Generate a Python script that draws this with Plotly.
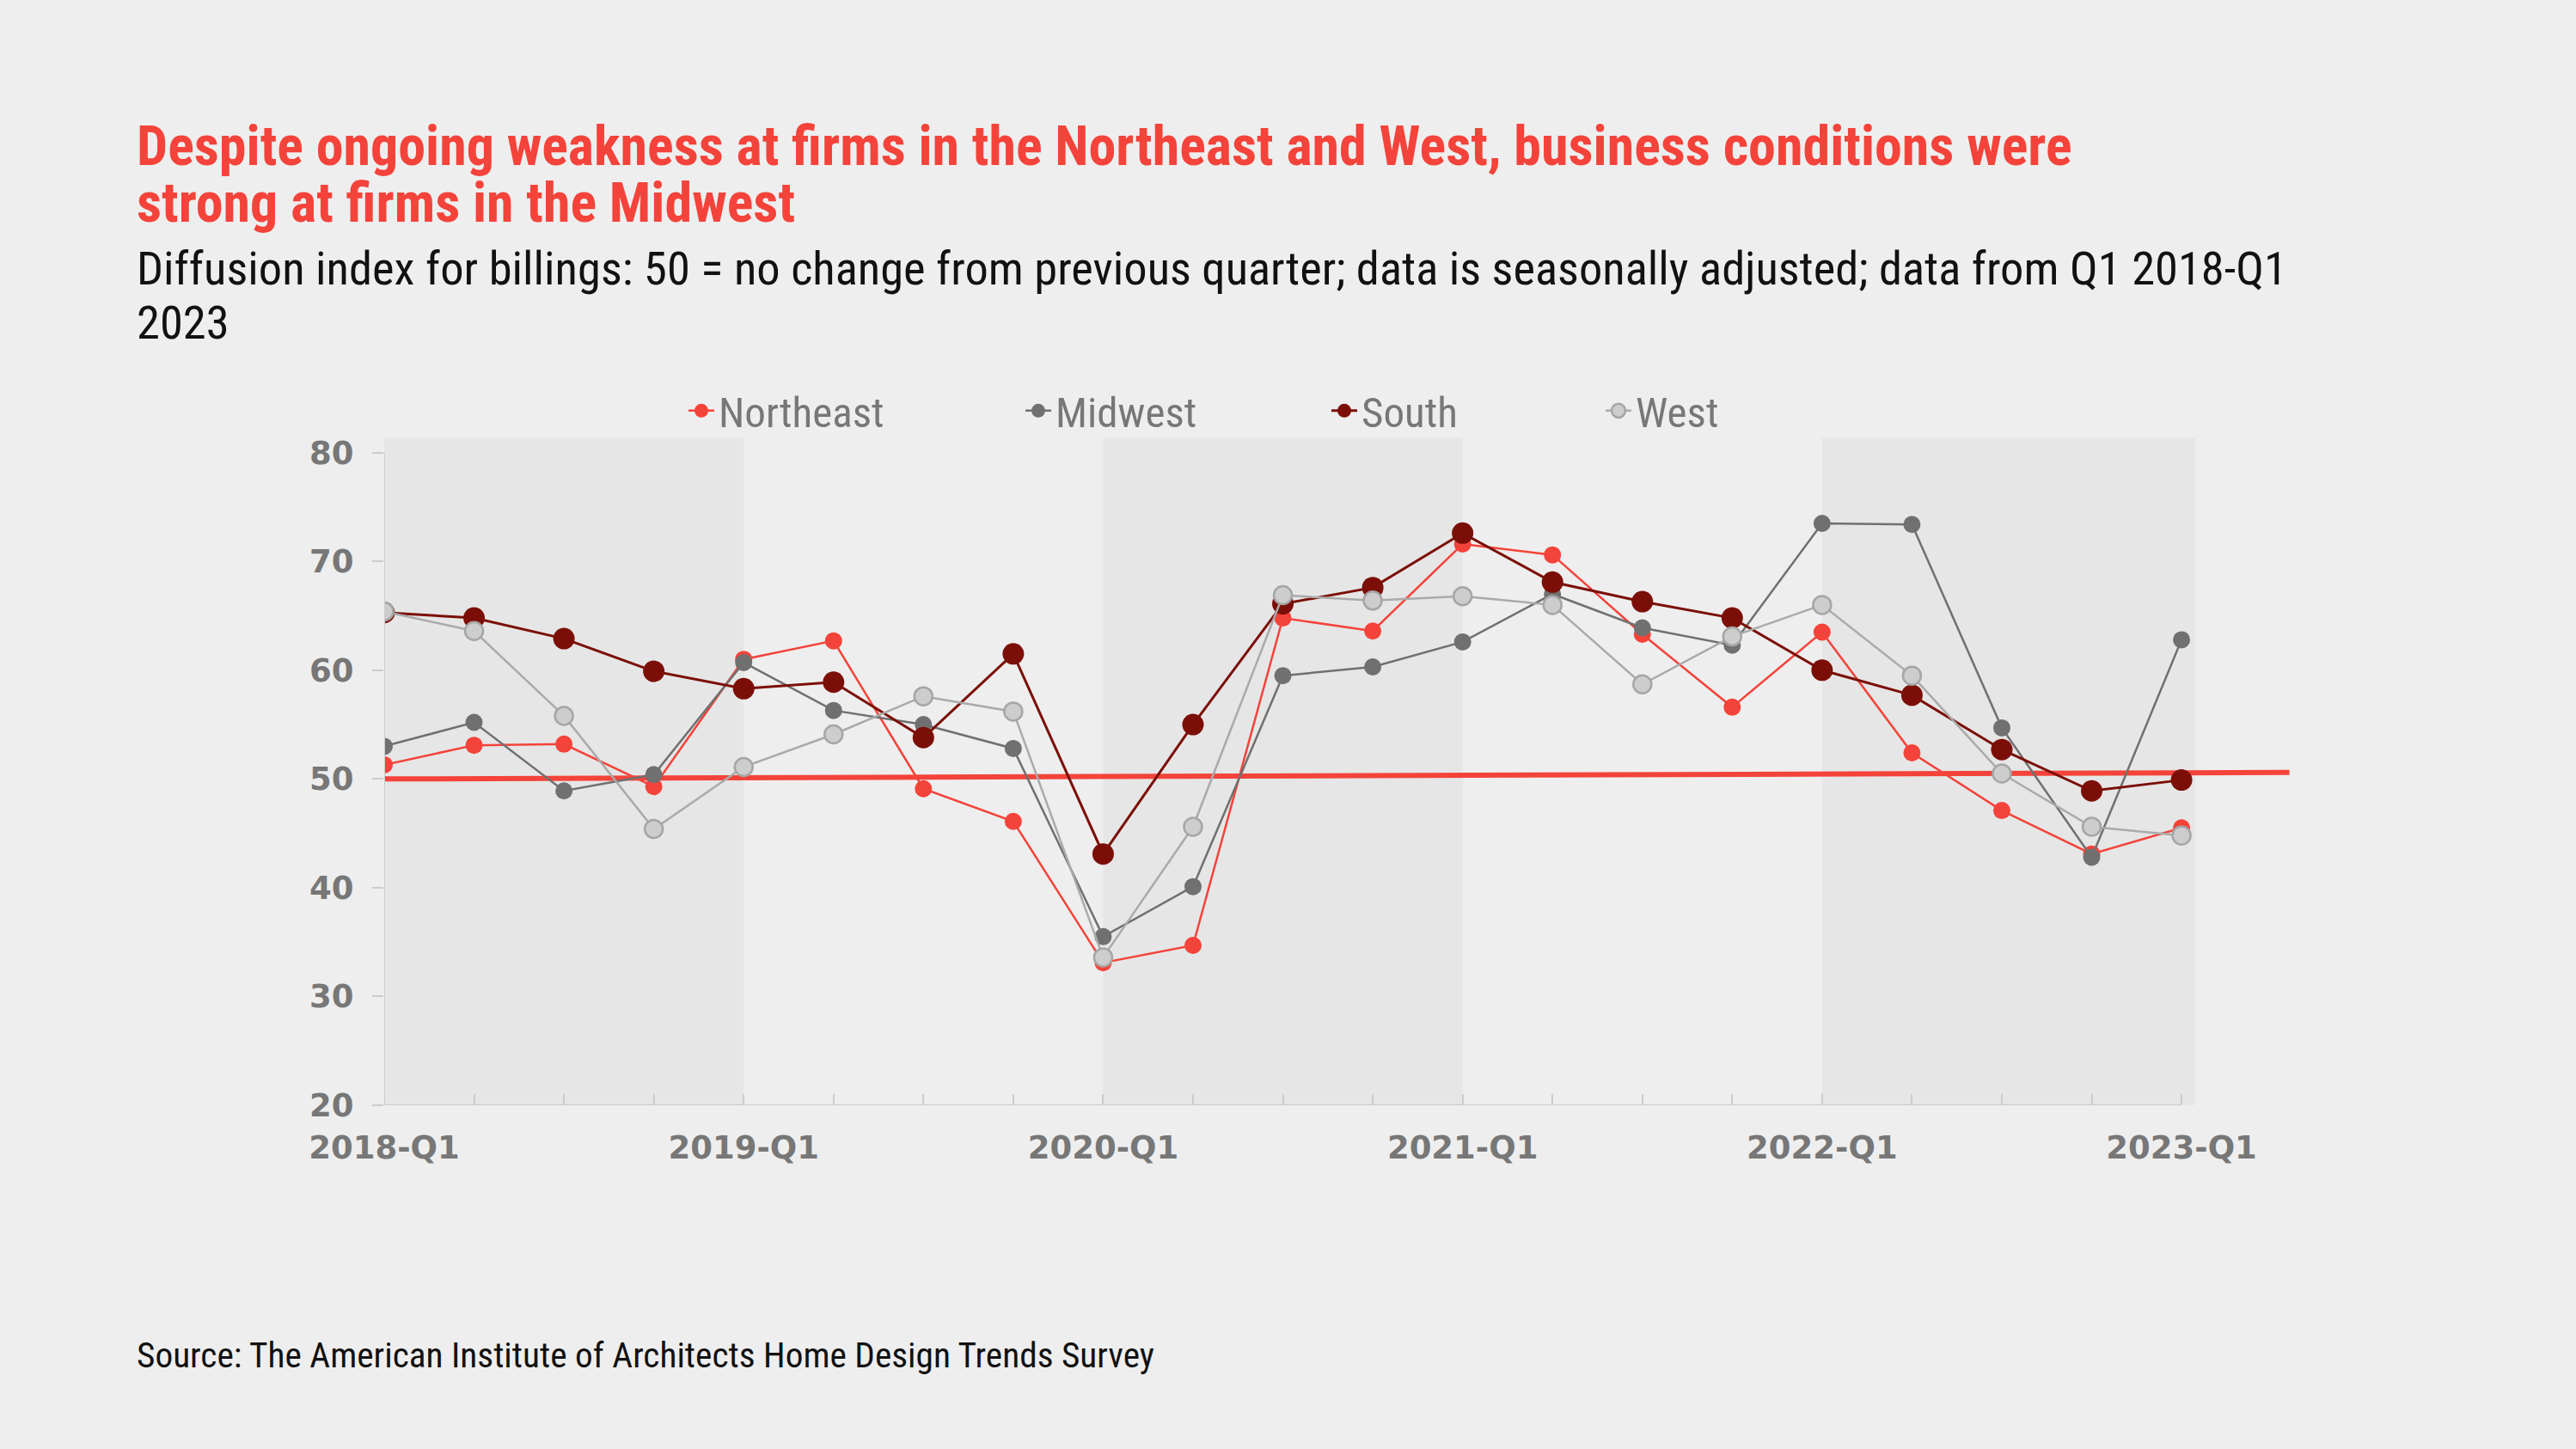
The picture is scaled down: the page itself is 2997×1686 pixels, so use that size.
import plotly.graph_objects as go

# ---------------- data ----------------
quarters = ["2018-Q1", "2018-Q2", "2018-Q3", "2018-Q4",
            "2019-Q1", "2019-Q2", "2019-Q3", "2019-Q4",
            "2020-Q1", "2020-Q2", "2020-Q3", "2020-Q4",
            "2021-Q1", "2021-Q2", "2021-Q3", "2021-Q4",
            "2022-Q1", "2022-Q2", "2022-Q3", "2022-Q4",
            "2023-Q1"]
tick_labels = ["2018-Q1", "", "", "", "2019-Q1", "", "", "", "2020-Q1", "", "", "",
               "2021-Q1", "", "", "", "2022-Q1", "", "", "", "2023-Q1"]

northeast = [51.3, 53.1, 53.2, 49.3, 61.0, 62.7, 49.1, 46.1,
             33.1, 34.7, 64.8, 63.6, 71.6, 70.6, 63.3, 56.6,
             63.5, 52.4, 47.1, 43.1, 45.5]
midwest = [53.0, 55.2, 48.9, 50.4, 60.7, 56.3, 55.0, 52.8,
           35.5, 40.1, 59.5, 60.3, 62.6, 67.0, 63.9, 62.3,
           73.5, 73.4, 54.7, 42.8, 62.8]
south = [65.3, 64.8, 62.9, 59.9, 58.3, 58.9, 53.8, 61.5,
         43.1, 55.0, 66.1, 67.6, 72.6, 68.1, 66.3, 64.8,
         60.0, 57.7, 52.7, 48.9, 49.9]
west = [65.4, 63.6, 55.8, 45.4, 51.1, 54.1, 57.6, 56.2,
        33.6, 45.6, 66.9, 66.4, 66.8, 66.0, 58.7, 63.1,
        66.0, 59.5, 50.5, 45.6, 44.8]

ref_x = [0, 21.2]
ref_y = [50.0, 50.6]

band_starts = [0, 8, 16]
band_ends = [4, 12, 20.15]

y_ticks = [20, 30, 40, 50, 60, 70, 80]

title_lines = ["Despite ongoing weakness at firms in the Northeast and West, business conditions were",
               "strong at firms in the Midwest"]
subtitle_lines = ["Diffusion index for billings: 50 = no change from previous quarter; data is seasonally adjusted; data from Q1 2018-Q1",
                  "2023"]
source_text = "Source: The American Institute of Architects Home Design Trends Survey"

# ---------------- layout geometry ----------------
W_PX, H_PX = 2997, 1686
L, R, T, B = 447, 2674, 509, 1286
PW, PH = R - L, B - T


def px_x(p):
    return (p - L) / PW


def px_y(p):
    return (B - p) / PH


NARROW = "Liberation Sans Narrow, Arial Narrow, Roboto Condensed, sans-serif"
BOLDWIDE = "DejaVu Sans, Verdana, sans-serif"
GREY = "#777777"

x_idx = list(range(len(quarters)))

fig = go.Figure()

# reference line at 50
fig.add_trace(go.Scatter(x=ref_x, y=ref_y, mode="lines",
                         line=dict(color="#F4433A", width=6),
                         showlegend=False, hoverinfo="skip"))

series = [
    ("Northeast", northeast, dict(color="#F4433A", width=2.5),
     dict(color="#F4433A", size=20), "legend"),
    ("Midwest", midwest, dict(color="#707070", width=2.5),
     dict(color="#707070", size=20), "legend2"),
    ("South", south, dict(color="#7B0F08", width=3),
     dict(color="#7B0F08", size=25), "legend3"),
    ("West", west, dict(color="#AAAAAA", width=2.5),
     dict(color="#CDCDCD", size=21, line=dict(color="#A6A6A6", width=2.5)), "legend4"),
]
for name, vals, ln, mk, lg in series:
    fig.add_trace(go.Scatter(x=x_idx, y=vals, name=name, mode="lines+markers",
                             line=ln, marker=mk, legend=lg))

shapes = []
for s, e in zip(band_starts, band_ends):
    shapes.append(dict(type="rect", xref="x", yref="paper", x0=s, x1=e, y0=0, y1=1,
                       fillcolor="#E6E6E6", line=dict(width=0), layer="below"))
# axis lines
shapes.append(dict(type="line", xref="x", yref="y", x0=0, x1=0, y0=20, y1=80,
                   line=dict(color="#CCCCCC", width=2)))
shapes.append(dict(type="line", xref="x", yref="y", x0=0, x1=20, y0=20, y1=20,
                   line=dict(color="#CCCCCC", width=2)))

annotations = []
for line, cy in zip(title_lines, [170, 236]):
    annotations.append(dict(text=line, xref="paper", yref="paper", x=px_x(157), y=px_y(cy),
                            xanchor="left", yanchor="middle", showarrow=False,
                            font=dict(family=NARROW, size=64, color="#F4433A", weight="bold")))
for line, cy in zip(subtitle_lines, [312, 375]):
    annotations.append(dict(text=line, xref="paper", yref="paper", x=px_x(157), y=px_y(cy),
                            xanchor="left", yanchor="middle", showarrow=False,
                            font=dict(family=NARROW, size=54.5, color="#111111")))
annotations.append(dict(text=source_text, xref="paper", yref="paper", x=px_x(157), y=px_y(1577),
                        xanchor="left", yanchor="middle", showarrow=False,
                        font=dict(family=NARROW, size=41.3, color="#111111")))

legend_centers = [810, 1202, 1558, 1877]
legend_common = dict(orientation="h", bgcolor="rgba(0,0,0,0)", yanchor="middle",
                     xanchor="left", font=dict(family=NARROW, size=49, color=GREY))
legends = {}
for key, cx in zip(["legend", "legend2", "legend3", "legend4"], legend_centers):
    legends[key] = dict(legend_common, x=px_x(cx - 14), y=px_y(478))

fig.update_layout(
    width=W_PX, height=H_PX,
    margin=dict(l=L, r=W_PX - R, t=T, b=H_PX - B, autoexpand=False),
    paper_bgcolor="#EEEEEE", plot_bgcolor="#EEEEEE",
    shapes=shapes, annotations=annotations,
    xaxis=dict(range=[0, 21.3], tickmode="array", tickvals=x_idx, ticktext=tick_labels,
               showgrid=False, zeroline=False, showline=False,
               ticks="inside", ticklen=13, tickwidth=2, tickcolor="#CCCCCC",
               ticklabelstandoff=24,
               tickfont=dict(family=BOLDWIDE, size=37, color=GREY, weight="bold")),
    yaxis=dict(range=[20, 81.4], tickmode="array", tickvals=y_ticks,
               showgrid=False, zeroline=False, showline=False,
               ticks="outside", ticklen=13, tickwidth=2, tickcolor="#CCCCCC",
               ticklabelstandoff=14,
               tickfont=dict(family=BOLDWIDE, size=37, color=GREY, weight="bold")),
    showlegend=True,
    **legends,
)

fig.write_html("out.html")
